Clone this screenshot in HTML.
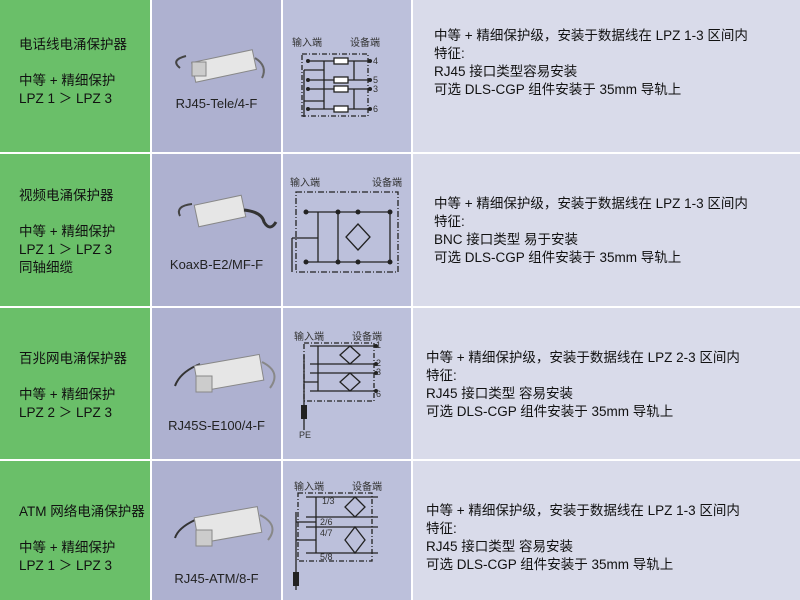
<!DOCTYPE html>
<html><head><meta charset="utf-8"><style>
body{margin:0;width:800px;height:600px;background:#fff;position:relative;overflow:hidden;font-family:"Liberation Sans","Noto Sans CJK SC",sans-serif;}
.c{position:absolute}
.g{background:#6abf69;left:0;width:150px}
.b{background:#aeb1d0;left:152px;width:129px}
.d{background:#bcc0db;left:283px;width:128px}
.l{background:#d9dbea;left:413px;width:387px}
.t1{position:absolute;left:19px;font-size:13.5px;line-height:18px;color:#111}
.t4{position:absolute;font-size:13.5px;line-height:18px;color:#111;white-space:nowrap}
.m{position:absolute;font-size:13px;color:#222;left:0;width:129px;text-align:center}
svg{position:absolute;left:0;top:0}
</style></head><body>
<div class="c g" style="top:0;height:152px"></div><div class="c b" style="top:0;height:152px"></div><div class="c d" style="top:0;height:152px"></div><div class="c l" style="top:0;height:152px"></div>
<div class="c g" style="top:154px;height:152px"></div><div class="c b" style="top:154px;height:152px"></div><div class="c d" style="top:154px;height:152px"></div><div class="c l" style="top:154px;height:152px"></div>
<div class="c g" style="top:308px;height:151px"></div><div class="c b" style="top:308px;height:151px"></div><div class="c d" style="top:308px;height:151px"></div><div class="c l" style="top:308px;height:151px"></div>
<div class="c g" style="top:461px;height:139px"></div><div class="c b" style="top:461px;height:139px"></div><div class="c d" style="top:461px;height:139px"></div><div class="c l" style="top:461px;height:139px"></div>

<div class="t1" style="top:36px">电话线电涌保护器<br><br>中等 + 精细保护<br>LPZ 1 ＞ LPZ 3</div>
<div class="t1" style="top:187px">视频电涌保护器<br><br>中等 + 精细保护<br>LPZ 1 ＞ LPZ 3<br>同轴细缆</div>
<div class="t1" style="top:350px">百兆网电涌保护器<br><br>中等 + 精细保护<br>LPZ 2 ＞ LPZ 3</div>
<div class="t1" style="top:503px">ATM 网络电涌保护器<br><br>中等 + 精细保护<br>LPZ 1 ＞ LPZ 3</div>

<div class="m" style="left:152px;top:96px">RJ45-Tele/4-F</div>
<div class="m" style="left:152px;top:257px">KoaxB-E2/MF-F</div>
<div class="m" style="left:152px;top:418px">RJ45S-E100/4-F</div>
<div class="m" style="left:152px;top:571px">RJ45-ATM/8-F</div>

<div class="t4" style="left:434px;top:27px">中等 + 精细保护级，安装于数据线在 LPZ 1-3 区间内<br>特征:<br>RJ45 接口类型容易安装<br>可选 DLS-CGP 组件安装于 35mm 导轨上</div>
<div class="t4" style="left:434px;top:195px">中等 + 精细保护级，安装于数据线在 LPZ 1-3 区间内<br>特征:<br>BNC 接口类型 易于安装<br>可选 DLS-CGP 组件安装于 35mm 导轨上</div>
<div class="t4" style="left:426px;top:349px">中等 + 精细保护级，安装于数据线在 LPZ 2-3 区间内<br>特征:<br>RJ45 接口类型 容易安装<br>可选 DLS-CGP 组件安装于 35mm 导轨上</div>
<div class="t4" style="left:426px;top:502px">中等 + 精细保护级，安装于数据线在 LPZ 1-3 区间内<br>特征:<br>RJ45 接口类型 容易安装<br>可选 DLS-CGP 组件安装于 35mm 导轨上</div>

<svg width="800" height="600" font-family="Liberation Sans,Noto Sans CJK SC,sans-serif">
<g fill="#e6e6e6" stroke="#888" stroke-width="1">
<path d="M180 68 Q170 60 186 56" fill="none" stroke="#444" stroke-width="2"/>
<rect x="193" y="56" width="62" height="20" transform="rotate(-12 224 66)"/>
<rect x="192" y="62" width="14" height="14" fill="#ccc"/>
<path d="M255 58 Q268 66 262 78" fill="none" stroke="#666" stroke-width="2"/>
<path d="M180 216 Q175 206 192 204" fill="none" stroke="#444" stroke-width="2"/>
<rect x="196" y="200" width="48" height="22" transform="rotate(-12 220 211)"/>
<path d="M244 210 Q262 212 264 222 Q270 232 276 222" fill="none" stroke="#333" stroke-width="3"/>
<path d="M175 386 Q180 372 200 364" fill="none" stroke="#333" stroke-width="2"/>
<rect x="196" y="360" width="66" height="26" transform="rotate(-10 229 373)"/>
<rect x="196" y="376" width="16" height="16" fill="#ccc"/>
<path d="M262 362 Q282 372 270 388" fill="none" stroke="#888" stroke-width="2"/>
<path d="M175 538 Q178 528 195 520" fill="none" stroke="#333" stroke-width="2"/>
<rect x="196" y="512" width="64" height="26" transform="rotate(-10 228 525)"/>
<rect x="196" y="530" width="16" height="16" fill="#ccc"/>
<path d="M260 515 Q280 525 268 540" fill="none" stroke="#888" stroke-width="2"/>
</g>
<g font-size="10" fill="#333">
<text x="292" y="46">输入端</text><text x="350" y="46">设备端</text>
<text x="290" y="186">输入端</text><text x="372" y="186">设备端</text>
<text x="294" y="340">输入端</text><text x="352" y="340">设备端</text>
<text x="294" y="490">输入端</text><text x="352" y="490">设备端</text>
</g>
<g stroke="#222" stroke-width="1.3" fill="none">
<rect x="302" y="54" width="66" height="62" stroke-dasharray="5 2 1 2"/>
<path d="M308 61H372M308 80H372M308 89H372M308 109H372M324 61V109M354 61V80M354 89V109M304 70V117M304 101H324M304 70H324"/>
<rect x="334" y="58" width="14" height="6" fill="#fff"/><rect x="334" y="77" width="14" height="6" fill="#fff"/><rect x="334" y="86" width="14" height="6" fill="#fff"/><rect x="334" y="106" width="14" height="6" fill="#fff"/>
<rect x="296" y="192" width="102" height="80" stroke-dasharray="6 2 1 2"/>
<path d="M306 212H390M306 262H390M318 212V262M338 212V262M390 212V262M292 238V272M292 238H318"/>
<path d="M358 224L370 237L358 250L346 237Z"/>
<rect x="304" y="343" width="70" height="58" stroke-dasharray="5 2 1 2"/>
<path d="M310 346H378M310 364H378M310 373H378M310 391H378M318 346V391M304 355V430M304 382H318"/>
<path d="M350 346L360 355L350 364L340 355ZM350 373L360 382L350 391L340 382Z"/>
<rect x="298" y="493" width="74" height="68" stroke-dasharray="5 2 1 2"/>
<path d="M306 497H378M306 517H378M306 527H378M306 553H378M316 497V553M296 512V590M296 540H316M296 522H316"/>
<path d="M355 497L365 507L355 517L345 507ZM355 527L365 540L355 553L345 540Z"/>
</g>
<g fill="#222">
<circle cx="308" cy="61" r="2"/><circle cx="308" cy="80" r="2"/><circle cx="308" cy="89" r="2"/><circle cx="308" cy="109" r="2"/>
<circle cx="370" cy="61" r="2"/><circle cx="370" cy="80" r="2"/><circle cx="370" cy="89" r="2"/><circle cx="370" cy="109" r="2"/>
<circle cx="306" cy="212" r="2.5"/><circle cx="306" cy="262" r="2.5"/><circle cx="390" cy="212" r="2.5"/><circle cx="390" cy="262" r="2.5"/>
<circle cx="338" cy="212" r="2.5"/><circle cx="338" cy="262" r="2.5"/><circle cx="358" cy="212" r="2.5"/><circle cx="358" cy="262" r="2.5"/>
<circle cx="376" cy="346" r="2"/><circle cx="376" cy="364" r="2"/><circle cx="376" cy="373" r="2"/><circle cx="376" cy="391" r="2"/>
<rect x="301" y="405" width="6" height="14"/><rect x="293" y="572" width="6" height="14"/>
</g>
<g font-size="9" fill="#333">
<text x="373" y="64">4</text><text x="373" y="83">5</text><text x="373" y="92">3</text><text x="373" y="112">6</text>
<text x="376" y="348">1</text><text x="376" y="366">2</text><text x="376" y="375">3</text><text x="376" y="397">6</text>
<text x="299" y="438">PE</text>
<text x="322" y="504">1/3</text><text x="320" y="525">2/6</text><text x="320" y="536">4/7</text><text x="320" y="560">5/8</text>
</g>
</svg>
</body></html>
